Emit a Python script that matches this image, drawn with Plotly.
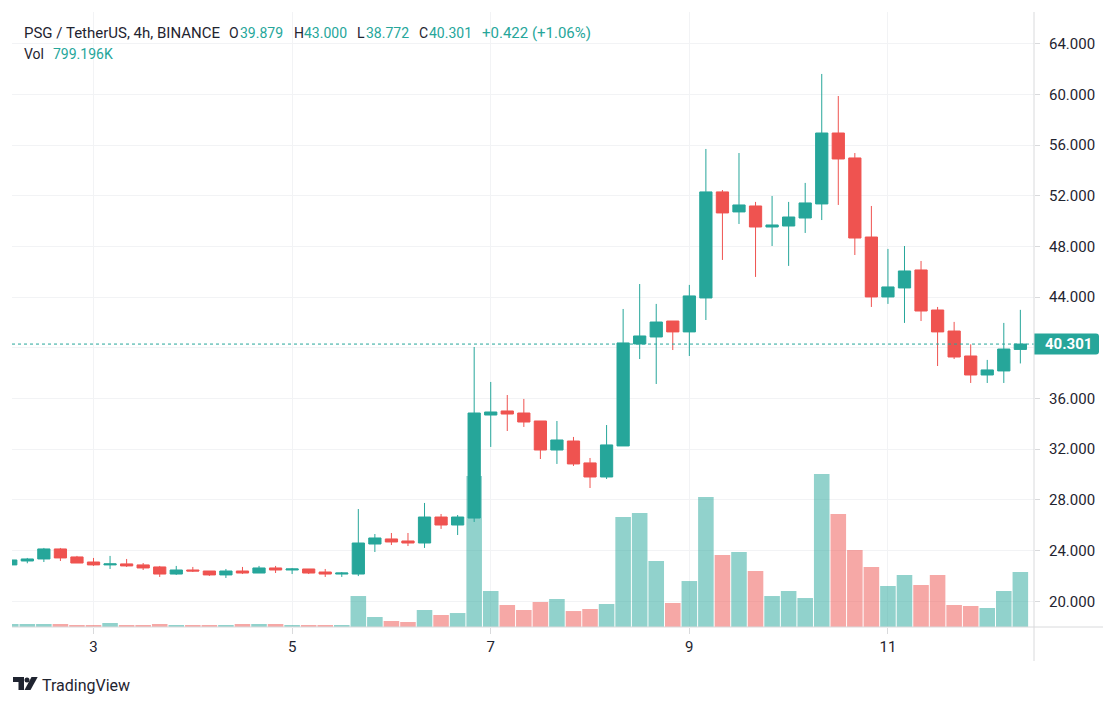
import pandas as pd
import plotly.graph_objects as go

UP = "#26a69a"
DOWN = "#ef5350"
GRID = "#f2f3f5"
AXIS = "#d9dadc"
INK = "#1f2430"
FONT = "Roboto"

# 4h candles, PSG / USDT
times = pd.date_range("2021-08-02 04:00", periods=62, freq="4h")

opens = [22.87, 23.18, 23.34, 24.13, 23.50, 23.10, 22.87, 22.95, 22.87, 22.71, 22.15, 22.47, 22.39, 22.08, 22.39, 22.23,
         22.63, 22.47, 22.55, 22.31, 22.15, 22.15, 24.52, 24.92, 24.76, 24.60, 26.65, 26.02, 26.57, 34.70, 35.02, 34.86,
         34.23, 31.94, 32.65, 30.92, 29.81, 32.26, 40.31, 40.86, 42.12, 41.26, 43.94, 52.31, 50.73, 51.20, 49.54, 49.62,
         50.25, 51.36, 56.96, 54.99, 48.75, 44.02, 44.73, 46.15, 42.99, 41.33, 39.36, 37.86, 38.18, 39.879]
highs = [23.30, 23.42, 24.21, 24.21, 23.58, 23.42, 23.58, 23.34, 23.02, 22.79, 22.79, 22.71, 22.39, 22.55, 22.71, 22.79,
         22.79, 22.63, 22.55, 22.55, 22.31, 27.28, 25.31, 25.39, 25.39, 27.76, 26.89, 26.81, 40.07, 37.31, 36.28, 35.97,
         34.23, 34.23, 32.97, 31.31, 33.91, 43.07, 45.04, 43.47, 42.12, 44.97, 55.70, 52.46, 55.38, 51.52, 51.99, 51.52,
         53.02, 61.62, 59.88, 55.38, 51.20, 47.81, 48.04, 46.86, 43.23, 42.05, 40.28, 39.05, 41.97, 43.000]
lows = [22.85, 23.00, 23.10, 23.18, 23.02, 22.79, 22.55, 22.71, 22.47, 21.92, 22.08, 22.31, 22.00, 21.84, 22.15, 22.23,
        22.23, 22.15, 22.15, 21.92, 21.92, 21.99, 23.89, 24.44, 24.36, 24.21, 25.71, 25.23, 26.26, 32.18, 33.44, 33.76,
        31.23, 30.84, 30.68, 28.94, 29.65, 32.26, 39.12, 37.15, 39.83, 39.36, 42.20, 46.94, 49.78, 45.60, 48.04, 46.47,
        49.07, 50.09, 51.28, 47.33, 43.23, 43.47, 41.97, 42.12, 38.57, 39.12, 37.23, 37.23, 37.23, 38.772]
closes = [23.26, 23.34, 24.13, 23.42, 23.02, 22.87, 22.95, 22.79, 22.63, 22.15, 22.47, 22.39, 22.08, 22.39, 22.23, 22.63,
          22.47, 22.55, 22.23, 22.15, 22.23, 24.60, 24.996, 24.68, 24.60, 26.65, 26.02, 26.65, 34.86, 34.94, 34.78, 34.15,
          31.94, 32.73, 30.84, 29.81, 32.34, 40.39, 40.94, 42.04, 41.26, 44.10, 52.31, 50.65, 51.28, 49.54, 49.70, 50.33,
          51.44, 56.96, 54.91, 48.67, 44.02, 44.81, 46.07, 42.91, 41.26, 39.28, 37.86, 38.26, 39.91, 40.301]
# volume in thousands
volumes = [44, 44, 44, 44, 29, 29, 58, 29, 29, 44, 29, 29, 29, 29, 44, 44,
           44, 29, 29, 29, 29, 450, 145, 87, 73, 247, 174, 203, 2194, 523, 320, 247,
           363, 407, 232, 262, 334, 1598, 1656, 959, 349, 668, 1889, 1046, 1090, 814, 450, 523,
           421, 2223, 1642, 1119, 872, 596, 756, 610, 756, 320, 305, 276, 523, 799.196]

price_ticks = [20, 24, 28, 32, 36, 40, 44, 48, 52, 56, 60, 64]
# 40.000 sits under the last price tag in the reference
price_labels = ["20.000", "24.000", "28.000", "32.000", "36.000", "", "44.000", "48.000", "52.000", "56.000", "60.000",
                "64.000"]
day_ticks = ["2021-08-03", "2021-08-05", "2021-08-07", "2021-08-09", "2021-08-11"]
day_labels = ["3", "5", "7", "9", "11"]

# plot box measured in page pixels; the page body adds an 8px margin around the figure
PAGE_W, PAGE_H = 1117, 706
BODY = 8
LEFT, RIGHT, TOP, BOTTOM = 12, 1034, 12, 627
FIG_W, FIG_H = PAGE_W - 2 * BODY, PAGE_H - 2 * BODY


def px(x):
    return (x - LEFT) / (RIGHT - LEFT)


def py(y):
    return (BOTTOM - y) / (BOTTOM - TOP)


bar_colors = [UP if c >= o else DOWN for o, c in zip(opens, closes)]

fig = go.Figure()
fig.add_trace(go.Bar(x=times, y=volumes, marker=dict(color=bar_colors, line_width=0), opacity=0.5, yaxis="y"))
fig.add_trace(go.Candlestick(
    x=times, open=opens, high=highs, low=lows, close=closes, yaxis="y2",
    increasing=dict(line=dict(color=UP, width=1), fillcolor=UP),
    decreasing=dict(line=dict(color=DOWN, width=1), fillcolor=DOWN),
    whiskerwidth=0,
))

# header legend, one piece of text per measured position
legend_bits = [
    (23, "PSG / TetherUS, 4h, BINANCE", INK, 15), (228, "O", INK, 14), (239, "39.879", UP, 14), (293, "H", INK, 14),
    (303, "43.000", UP, 14), (356, "L", INK, 14), (365, "38.772", UP, 14), (418, "C", INK, 14), (428, "40.301", UP, 14),
    (481, "+0.422 (+1.06%)", UP, 15),
]
notes = []
for x, text, color, size in legend_bits:
    notes.append(dict(x=px(x), y=py(33.5), text=text, font=dict(color=color, size=size)))
notes.append(dict(x=px(23), y=py(54), text="Vol", font=dict(color=INK)))
notes.append(dict(x=px(52), y=py(54), text="799.196K", font=dict(color=UP)))
notes.append(dict(x=px(41), y=py(685), text="TradingView", font=dict(color=INK, size=16)))
for n in notes:
    n.update(xref="paper", yref="paper", xanchor="left", yanchor="middle", showarrow=False, borderpad=0)
    n["font"] = dict(dict(family=FONT, size=14), **n["font"])
notes.append(dict(
    xref="paper", yref="y2", x=px(1068), y=closes[-1], text="<b>40.301</b>", showarrow=False,
    xanchor="center", yanchor="middle", font=dict(family=FONT, size=15, color="white"),
))

shapes = [
    # last price line and its tag
    dict(type="line", xref="paper", yref="y2", x0=0, x1=1, y0=closes[-1], y1=closes[-1],
         line=dict(color=UP, width=1, dash="dot")),
    dict(type="path", xref="paper", yref="y2", xsizemode="pixel", ysizemode="pixel", xanchor=1, yanchor=closes[-1],
         path="M 0 -10.5 L 62 -10.5 Q 65 -10.5 65 -7.5 L 65 7.5 Q 65 10.5 62 10.5 L 0 10.5 Z",
         fillcolor=UP, line_width=0),
    # axis frame, runs past the plot box
    dict(type="line", xref="paper", yref="paper", x0=1, x1=1, y0=py(12), y1=py(661), line=dict(color=AXIS, width=1)),
    dict(type="line", xref="paper", yref="paper", x0=0, x1=px(1103), y0=0, y1=0, line=dict(color=AXIS, width=1)),
    # TradingView mark
    dict(type="path", xref="paper", yref="paper", line_width=0, fillcolor=INK,
         path=f"M {px(13)} {py(677)} L {px(24)} {py(677)} L {px(24)} {py(690)} L {px(18.5)} {py(690)} "
              f"L {px(18.5)} {py(682)} L {px(13)} {py(682)} Z"),
    dict(type="circle", xref="paper", yref="paper", line_width=0, fillcolor=INK,
         x0=px(24.5), x1=px(29.5), y0=py(682.5), y1=py(677.5)),
    dict(type="path", xref="paper", yref="paper", line_width=0, fillcolor=INK,
         path=f"M {px(31.5)} {py(677)} L {px(37.7)} {py(677)} L {px(30.5)} {py(690)} L {px(24.5)} {py(690)} Z"),
]

fig.update_layout(
    width=FIG_W, height=FIG_H,
    margin=dict(l=LEFT - BODY, r=FIG_W - (RIGHT - BODY), t=TOP - BODY, b=FIG_H - (BOTTOM - BODY), pad=0),
    paper_bgcolor="white", plot_bgcolor="white",
    showlegend=False, bargap=0.06, boxgap=0.26, boxgroupgap=0, hovermode=False,
    font=dict(family=FONT, size=14, color=INK),
    annotations=notes, shapes=shapes,
    xaxis=dict(
        type="date", range=["2021-08-02 04:18", "2021-08-12 11:18"], rangeslider=dict(visible=False),
        tickmode="array", tickvals=day_ticks, ticktext=day_labels, tickfont=dict(size=15),
        showgrid=True, gridcolor=GRID, gridwidth=1, zeroline=False, showline=False,
        ticks="outside", ticklen=6, tickcolor=AXIS, tickwidth=1,
    ),
    yaxis=dict(range=[0, 8936], visible=False, showgrid=False, zeroline=False),
    yaxis2=dict(
        overlaying="y", side="right", range=[17.97, 66.51],
        tickmode="array", tickvals=price_ticks, ticktext=price_labels, tickfont=dict(size=15),
        showgrid=True, gridcolor=GRID, gridwidth=1, zeroline=False, showline=False,
        ticks="outside", ticklen=5, tickcolor=AXIS, tickwidth=1, ticklabelstandoff=6,
    ),
)

fig.write_html("out.html")
